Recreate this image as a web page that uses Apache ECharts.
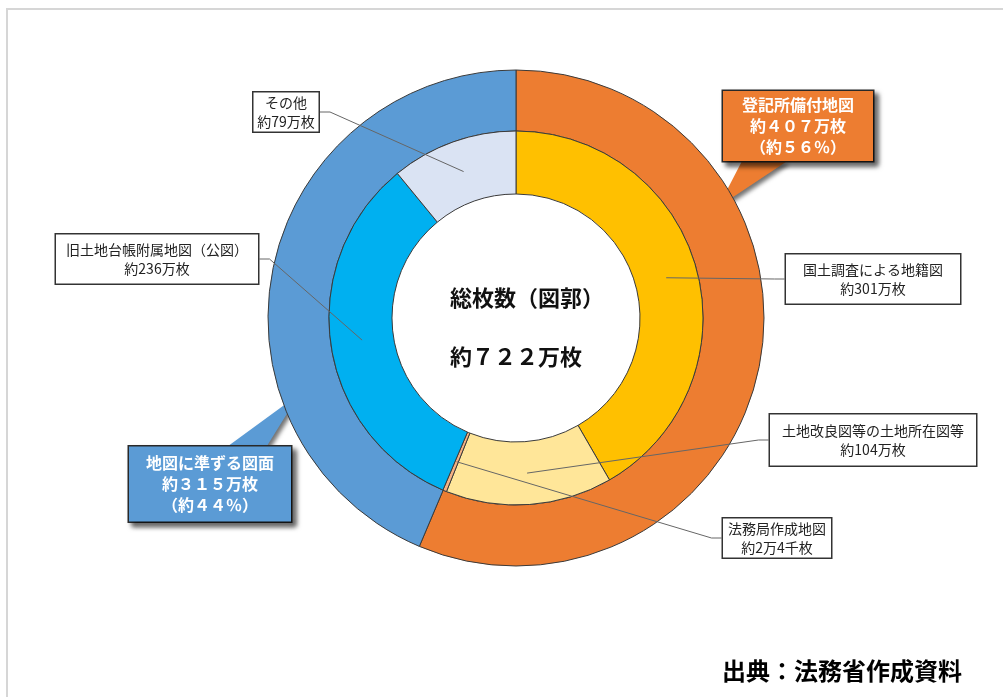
<!DOCTYPE html>
<html>
<head>
<meta charset="utf-8">
<script src="https://cdn.jsdelivr.net/npm/echarts@6/dist/echarts.min.js"></script>
<style>
  html, body { margin: 0; padding: 0; background: #fff; }
  #frame { position: absolute; left: 6px; top: 8px; width: 1100px; height: 800px;
           border-top: 2px solid #d6d6d6; border-left: 2px solid #d6d6d6; }
  #main { position: absolute; left: 0; top: 0; width: 1003px; height: 697px; }
</style>
</head>
<body>
<div id="frame"></div>
<div id="main"></div>
<script>
// 外側：登記所備付地図 / 地図に準ずる図面（万枚）
var outerNames = ['登記所備付地図', '地図に準ずる図面'];
var outerValues = [407, 315];
var outerLabels = ['約４０７万枚\n（約５６％）', '約３１５万枚\n（約４４％）'];

// 内側：内訳（万枚）
var innerNames = ['国土調査による地籍図', '土地改良図等の土地所在図等', '法務局作成地図', '旧土地台帳附属地図（公図）', 'その他'];
var innerValues = [301, 104, 2.4, 236, 79];
var innerLabels = ['約301万枚', '約104万枚', '約2万4千枚', '約236万枚', '約79万枚'];

var totalText = ['総枚数（図郭）', '約７２２万枚'];
var sourceText = '出典：法務省作成資料';

// ラベル枠（中心x, 中心y, 幅, 高さ）
var outerBoxes = [[798, 126, 153, 73], [210, 484, 165, 78]];
var innerBoxes = [[873, 279, 177, 52], [873, 440, 209, 54], [777, 538, 111, 42], [157, 259, 205, 52], [286, 112, 68, 42]];
// 吹き出しの付け根（辺, 開始割合, 終了割合）と先端（角度割合, 半径割合）
var tails = [['bottom', 0.14, 0.42], ['top', 0.62, 0.84]];
var tailTip = [0.3, 0.78];

var outerColors = ['#ED7D31', '#5B9BD5'];
var innerColors = ['#FFC000', '#FFE699', '#F4B183', '#00B0F0', '#DAE3F3'];
var fontJP = '"Noto Sans CJK JP", "Noto Sans", sans-serif';

var chart = echarts.init(document.getElementById('main'));

function boxStyle(box, lines, lh) {
    var padV = Math.max(0, (box[3] - lines * lh) / 2 - 1.5);
    return { width: box[2] - 3, padding: [padV, 0] };
}

function itemLayout(p) {
    try {
        return chart.getModel().getSeriesByIndex(p.seriesIndex).getData().getItemLayout(p.dataIndex);
    } catch (e) {
        return null;
    }
}

function sectorPoint(lay, angleFrac, radFrac) {
    var a = lay.startAngle + (lay.endAngle - lay.startAngle) * angleFrac;
    var r = lay.r0 + (lay.r - lay.r0) * radFrac;
    return [lay.cx + r * Math.cos(a), lay.cy + r * Math.sin(a)];
}

var outerData = outerNames.map(function (name, i) {
    var s = boxStyle(outerBoxes[i], 3, 21);
    return {
        name: name,
        value: outerValues[i],
        itemStyle: { color: outerColors[i] },
        label: { backgroundColor: outerColors[i], width: s.width, padding: s.padding },
        labelLine: { lineStyle: { color: outerColors[i] } }
    };
});

var innerData = innerNames.map(function (name, i) {
    return { name: name, value: innerValues[i], itemStyle: { color: innerColors[i] } };
});

// 引き出し線を扇形の上に描くための透明な重ね系列
var innerLabelData = innerNames.map(function (name, i) {
    var s = boxStyle(innerBoxes[i], 2, 19);
    return { name: name, value: innerValues[i], label: { width: s.width, padding: s.padding } };
});

var option = {
    animation: false,
    title: [
        {
            text: totalText[0], left: 450, top: 287, padding: 0,
            textStyle: { fontSize: 22, fontWeight: 'bold', color: '#111', fontFamily: fontJP }
        },
        {
            text: totalText[1], left: 450, top: 346, padding: 0,
            textStyle: { fontSize: 22, fontWeight: 'bold', color: '#111', fontFamily: fontJP }
        },
        {
            text: sourceText, left: 842, textAlign: 'center', top: 659, padding: 0,
            textStyle: { fontSize: 24, fontWeight: 'bold', color: '#000', fontFamily: fontJP }
        }
    ],
    series: [
        {
            name: '外側',
            type: 'pie',
            z: 2,
            center: [516, 318],
            radius: [187, 248],
            startAngle: 90,
            clockwise: true,
            avoidLabelOverlap: false,
            emphasis: { disabled: true },
            itemStyle: { borderColor: '#3a3a3a', borderWidth: 1 },
            label: {
                show: true,
                position: 'outside',
                fontFamily: fontJP,
                fontSize: 16,
                fontWeight: 'bold',
                lineHeight: 21,
                color: '#fff',
                borderColor: '#2a2a2a',
                borderWidth: 1.5,
                shadowColor: 'rgba(0,0,0,0.6)',
                shadowBlur: 5,
                shadowOffsetX: 4,
                shadowOffsetY: 4,
                formatter: function (p) {
                    return outerNames[p.dataIndex] + '\n' + outerLabels[p.dataIndex];
                }
            },
            labelLine: {
                show: true, showAbove: true, length: 10, length2: 0,
                lineStyle: {
                    width: 2, join: 'round',
                    shadowColor: 'rgba(0,0,0,0.55)', shadowBlur: 4, shadowOffsetX: 3, shadowOffsetY: 3
                }
            },
            labelLayout: function (p) {
                var b = outerBoxes[p.dataIndex];
                var t = tails[p.dataIndex];
                var res = { x: b[0], y: b[1], align: 'center', verticalAlign: 'middle' };
                var lay = itemLayout(p);
                if (lay) {
                    // 吹き出しの三角部分を線で塗りつぶす
                    var tip = sectorPoint(lay, tailTip[0], tailTip[1]);
                    var left = b[0] - b[2] / 2;
                    var y = t[0] === 'bottom' ? b[1] + b[3] / 2 - 1 : b[1] - b[3] / 2 + 1;
                    var x0 = left + b[2] * t[1], x1 = left + b[2] * t[2];
                    var pts = [];
                    for (var x = x0; x <= x1; x += 1.5) {
                        pts.push([x, y]);
                        pts.push(tip);
                    }
                    res.labelLinePoints = pts;
                }
                return res;
            },
            data: outerData
        },
        {
            name: '内側',
            type: 'pie',
            z: 3,
            center: [516, 318],
            radius: [124, 187],
            startAngle: 90,
            clockwise: true,
            emphasis: { disabled: true },
            itemStyle: { borderColor: '#3a3a3a', borderWidth: 1 },
            label: { show: false },
            labelLine: { show: false },
            data: innerData
        },
        {
            name: '内側ラベル',
            type: 'pie',
            z: 4,
            silent: true,
            center: [516, 318],
            radius: [124, 187],
            startAngle: 90,
            clockwise: true,
            avoidLabelOverlap: false,
            emphasis: { disabled: true },
            itemStyle: { color: 'rgba(0,0,0,0)', borderWidth: 0 },
            label: {
                show: true,
                position: 'outside',
                fontFamily: fontJP,
                fontSize: 14,
                lineHeight: 19,
                color: '#222',
                backgroundColor: '#fff',
                borderColor: '#333',
                borderWidth: 1.5,
                formatter: function (p) {
                    return innerNames[p.dataIndex] + '\n' + innerLabels[p.dataIndex];
                }
            },
            labelLine: {
                show: true, length: 10, length2: 0,
                lineStyle: { color: '#666', width: 1 }
            },
            labelLayout: function (p) {
                var b = innerBoxes[p.dataIndex];
                var res = { x: b[0], y: b[1], align: 'center', verticalAlign: 'middle' };
                var lay = itemLayout(p);
                if (lay) {
                    var a = sectorPoint(lay, 0.5, 0.5);
                    var side = a[0] > b[0] ? 1 : -1;
                    var ex = b[0] + side * b[2] / 2;
                    res.labelLinePoints = [a, [ex + side * 10, b[1]], [ex, b[1]]];
                }
                return res;
            },
            data: innerLabelData
        }
    ]
};

chart.setOption(option);
</script>
</body>
</html>
